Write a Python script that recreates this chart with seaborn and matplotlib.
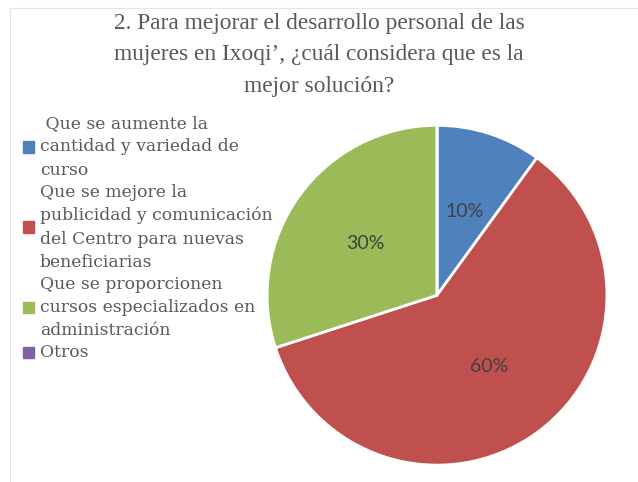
import matplotlib
matplotlib.use("Agg")
import matplotlib.pyplot as plt
from matplotlib.patches import Patch
import seaborn as sns

# --- data ---
categories = [
    " Que se aumente la\ncantidad y variedad de\ncurso",
    "Que se mejore la\npublicidad y comunicación\ndel Centro para nuevas\nbeneficiarias",
    "Que se proporcionen\ncursos especializados en\nadministración",
    "Otros",
]
shares = [10, 60, 30, 0]
colors = ["#4F81BD", "#C0504D", "#9BBB59", "#8064A2"]
title = "2. Para mejorar el desarrollo personal de las\nmujeres en Ixoqi’, ¿cuál considera que es la\nmejor solución?"

sns.set_theme(style="white")

fig = plt.figure(figsize=(6.38, 4.82), dpi=100)
fig.patch.set_facecolor("white")
# faint outline of the chart area
fig.add_artist(plt.Rectangle((0.016, -0.01), 1.0, 0.993, transform=fig.transFigure,
                             fill=False, edgecolor="#e4e4e4", linewidth=0.8))

ax = fig.add_axes([0.4185, 0.035, 0.533, 0.705])


def pct(v):
    return f"{v:.0f}%" if v > 0.5 else ""


wedges, texts, autotexts = ax.pie(
    shares, colors=colors, startangle=90, counterclock=False,
    autopct=pct, pctdistance=0.52,
    wedgeprops=dict(edgecolor="white", linewidth=2),
    textprops=dict(color="#404040", fontsize=14, family="Lato"),
)
ax.set_xlim(-1.0, 1.0)
ax.set_ylim(-1.0, 1.0)
ax.set_aspect("equal")

fig.text(0.5, 0.973, title, ha="center", va="top", fontsize=16.8,
         family="Liberation Serif", color="#595959", linespacing=1.65)

handles = [Patch(facecolor=c, edgecolor=c) for c in colors]
leg = fig.legend(handles, categories, loc="upper left", bbox_to_anchor=(0.025, 0.775),
                 frameon=False, handlelength=0.65, handleheight=0.65, handletextpad=0.35,
                 labelspacing=0.3, borderaxespad=0,
                 prop=dict(family="DejaVu Serif", size=12.3))
for t in leg.get_texts():
    t.set_color("#595959")
    t.set_linespacing(1.47)
# centre each colour square on its (multi-line) label
for col in leg._legend_handle_box.get_children():
    for row in col.get_children():
        row.align = "center"

fig.savefig("out.png", dpi=100)
